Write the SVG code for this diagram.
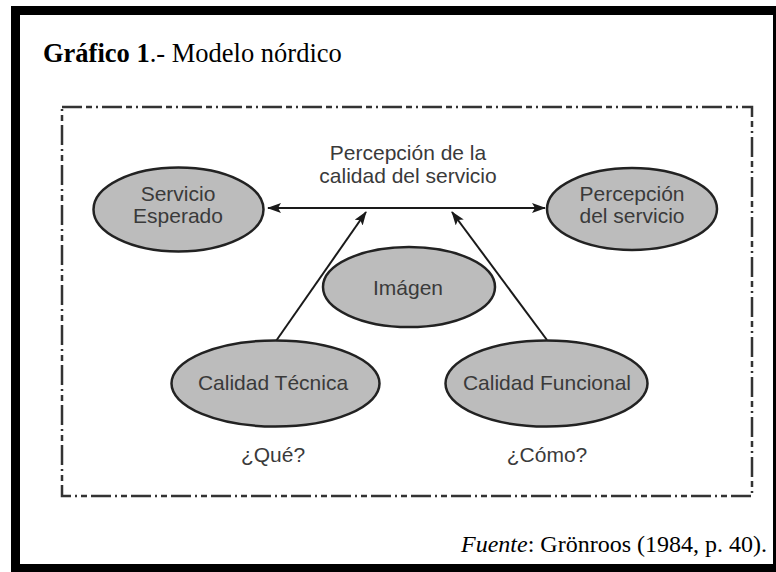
<svg xmlns="http://www.w3.org/2000/svg" width="776" height="572" viewBox="0 0 776 572">
<style>
.node ellipse{fill:#bcbcbc;stroke:#222;stroke-width:2.5}
.lbl{font-family:"Liberation Sans",Arial,sans-serif;font-size:21px;fill:#3a3a3a;text-anchor:middle}
.conn line{stroke:#1a1a1a;stroke-width:2}
.serif{font-family:"Liberation Serif","Times New Roman",serif;fill:#000}
</style>
<defs>
<marker id="ah" viewBox="0 0 14 10" refX="13" refY="5" markerWidth="14" markerHeight="10" markerUnits="userSpaceOnUse" orient="auto-start-reverse">
<path d="M0,0 L14,5 L0,10 L3,5 Z" fill="#1a1a1a"/>
</marker>
</defs>
<rect x="0" y="0" width="776" height="572" fill="#fff"/>
<rect x="15.5" y="10.5" width="762" height="558" fill="none" stroke="#000" stroke-width="9"/>
<text class="serif" x="43" y="62" font-size="26.5"><tspan font-weight="bold">Gráfico 1</tspan>.- Modelo nórdico</text>
<rect x="62" y="107" width="690" height="389" fill="none" stroke="#333" stroke-width="2.5" stroke-dasharray="20 4 6 4 2 4"/>
<g class="conn">
<line x1="268" y1="208" x2="545" y2="208" marker-start="url(#ah)" marker-end="url(#ah)"/>
<line x1="276" y1="341" x2="366" y2="212" marker-end="url(#ah)"/>
<line x1="547" y1="340" x2="452" y2="212" marker-end="url(#ah)"/>
</g>
<text class="lbl" x="408" y="160">Percepción de la</text>
<text class="lbl" x="408" y="183">calidad del servicio</text>
<g id="servicio-esperado" class="node">
<ellipse cx="178.5" cy="209.5" rx="85" ry="42"/>
<text class="lbl" x="178" y="201">Servicio</text>
<text class="lbl" x="178" y="223">Esperado</text>
</g>
<g id="percepcion-servicio" class="node">
<ellipse cx="632" cy="209" rx="85" ry="41"/>
<text class="lbl" x="632" y="201">Percepción</text>
<text class="lbl" x="632" y="223">del servicio</text>
</g>
<g id="imagen" class="node">
<ellipse cx="409" cy="287" rx="86" ry="40"/>
<text class="lbl" x="408" y="295">Imágen</text>
</g>
<g id="calidad-tecnica" class="node">
<ellipse cx="275.5" cy="383.5" rx="104" ry="43"/>
<text class="lbl" x="273" y="390">Calidad Técnica</text>
</g>
<g id="calidad-funcional" class="node">
<ellipse cx="546.5" cy="383.5" rx="101" ry="43"/>
<text class="lbl" x="547" y="390">Calidad Funcional</text>
</g>
<text class="lbl" x="273" y="462">¿Qué?</text>
<text class="lbl" x="547" y="462">¿Cómo?</text>
<text class="serif" x="767" y="552" font-size="24" text-anchor="end"><tspan font-style="italic">Fuente</tspan>: Grönroos (1984, p. 40).</text>
</svg>
